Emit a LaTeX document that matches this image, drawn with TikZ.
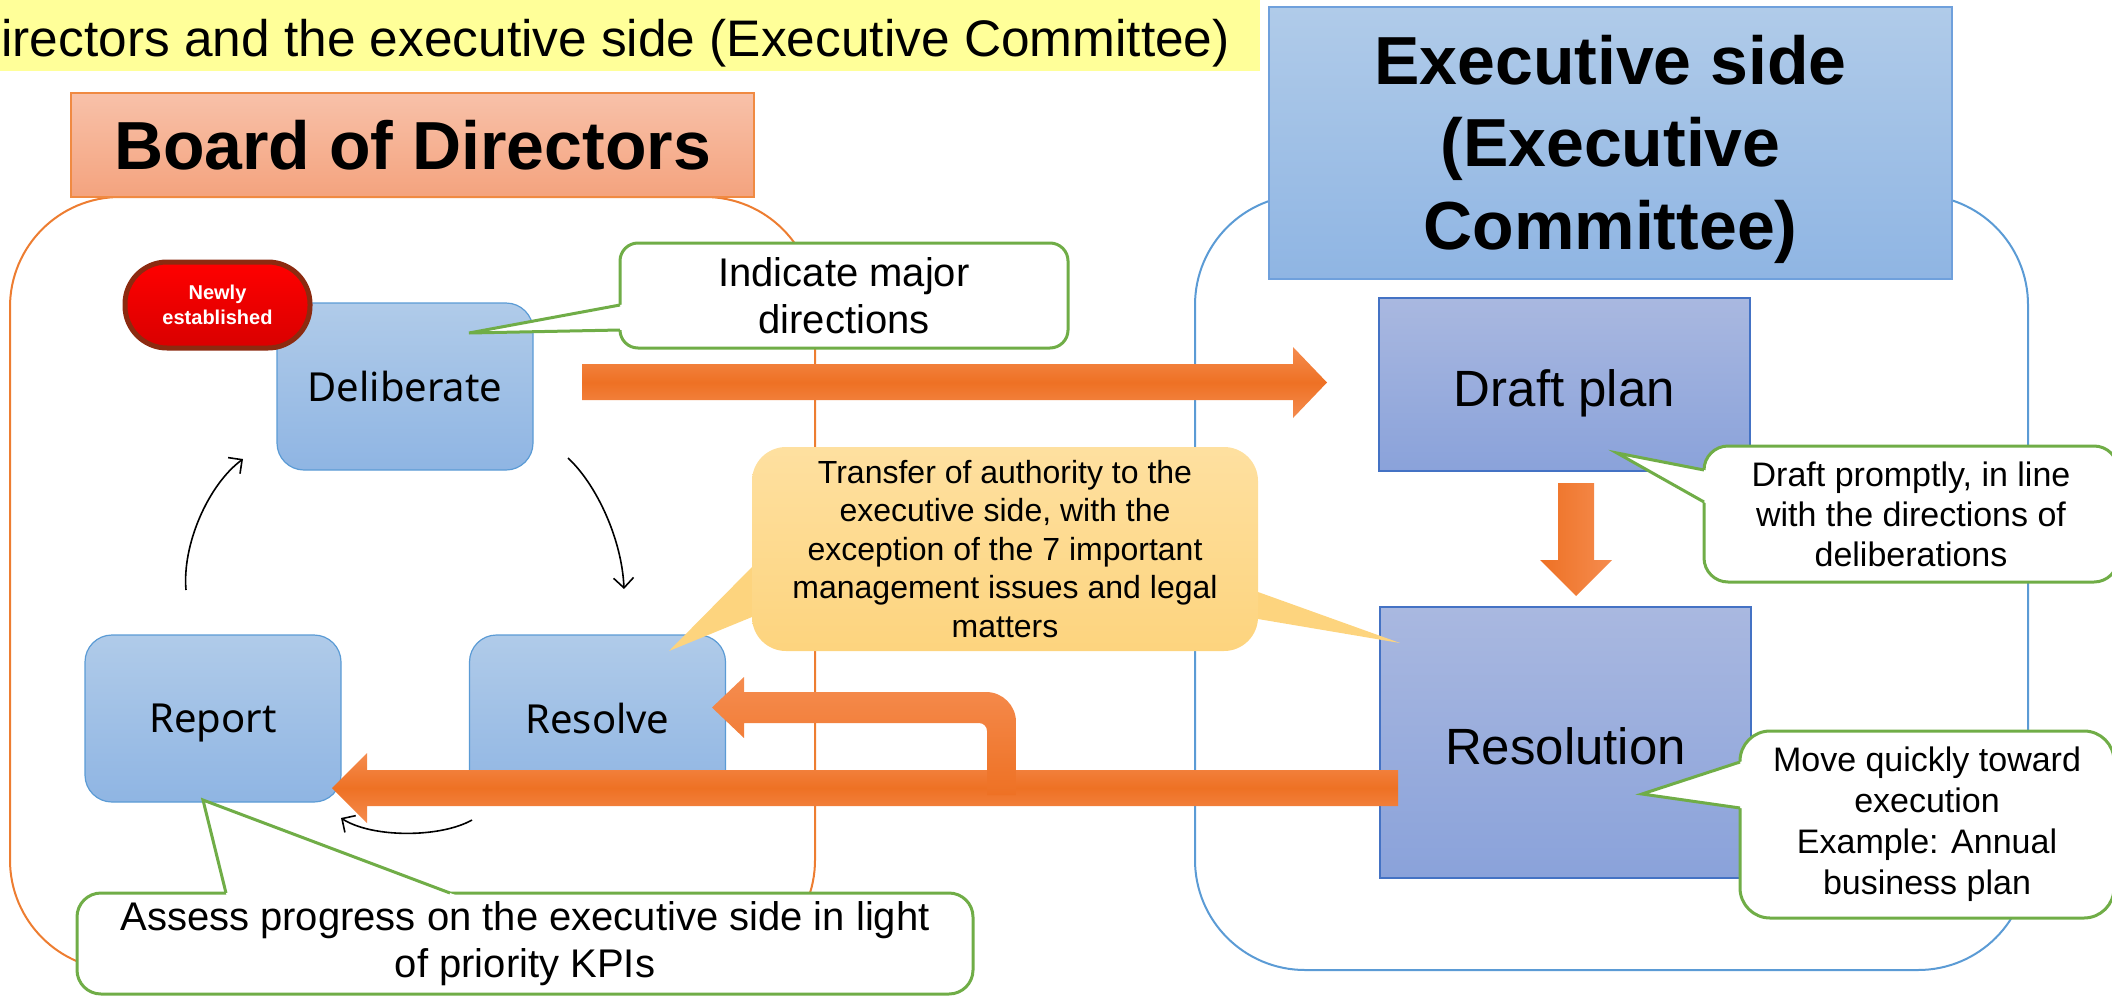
\documentclass[tikz,border=0pt]{standalone}
\usepackage{fontspec}
\setmainfont{Liberation Sans}
\newfontfamily\boxfont{Noto Sans}
\usepackage{tikz}
\usetikzlibrary{arrows.meta,calc}

\definecolor{titleyellow}{HTML}{FFFF99}
\definecolor{boxtop}{HTML}{B0CBE9}
\definecolor{boxbot}{HTML}{8FB5E3}
\definecolor{boxline}{HTML}{5B9BD5}
\definecolor{plantop}{HTML}{A9B8E0}
\definecolor{planbot}{HTML}{8AA2DA}
\definecolor{planline}{HTML}{4472C4}
\definecolor{boardtop}{HTML}{F8C1A9}
\definecolor{boardbot}{HTML}{F4A37E}
\definecolor{boardline}{HTML}{F08A42}
\definecolor{exline}{HTML}{6FA0DC}
\definecolor{grpline}{HTML}{ED7D31}
\definecolor{arrlight}{HTML}{F58C4F}
\definecolor{arrdark}{HTML}{EE7124}
\definecolor{notegreen}{HTML}{70AD47}
\definecolor{notetop}{HTML}{FEE0A0}
\definecolor{notebot}{HTML}{FDD47E}
\definecolor{newlyedge}{HTML}{8C2A10}

\tikzset{
  sidegroup/.style={line width=1pt, rounded corners=55pt},
  headbox/.style={inner sep=0pt, minimum width=341.5pt, align=center, line width=0.8pt,
    font=\bfseries\fontsize{34}{41.25}\selectfont},
  stepbox/.style={draw=boxline, line width=0.6pt, top color=boxtop, bottom color=boxbot,
    rounded corners=13.5pt, minimum width=128pt, minimum height=83.5pt, inner sep=0pt,
    text depth=0pt, font=\boxfont\fontsize{20}{24}\selectfont},
  planbox/.style={draw=planline, line width=0.6pt, top color=plantop, bottom color=planbot,
    minimum width=185.5pt, inner sep=0pt, text height=22pt, text depth=0pt,
    font=\fontsize{25.5}{30}\selectfont},
  bigarrow/.style={top color=arrlight, bottom color=arrlight, middle color=arrdark},
  cyclearrow/.style={line width=0.8pt, -{Straight Barb[length=5pt,width=10pt]}},
  yellownote/.style={top color=notetop, bottom color=notebot, rounded corners=17pt,
    inner sep=0pt, align=center, font=\fontsize{16}{19.25}\selectfont},
  greennote/.style={draw=notegreen, line width=1.5pt, fill=white, inner sep=0pt, align=center},
  noteline/.style={draw=notegreen, line width=1.5pt}
}

\begin{document}
\begin{tikzpicture}[x=0.5pt, y=-0.5pt]
  \useasboundingbox (0,0) rectangle (2112,995);

  % title strip
  \fill[titleyellow] (0,0) rectangle (1260,71);
  \node[anchor=base west, inner sep=0pt, font=\fontsize{25.7}{30}\selectfont] (title) at (1,57)
    {irectors and the executive side (Executive Committee)};

  % the two sides
  \draw[sidegroup, draw=grpline] (10,197) rectangle (815,970);
  \draw[sidegroup, draw=boxline] (1195,195) rectangle (2028,970);
  \node[headbox, draw=boardline, top color=boardtop, bottom color=boardbot, minimum height=52pt]
    (board) at (412.5,145) {Board of Directors};
  \node[headbox, draw=exline, top color=boxtop, bottom color=boxbot, minimum height=136pt,
    text depth=0.08em] (exec) at (1610.5,143) {Executive side\\(Executive\\Committee)};

  % steps
  \node[stepbox] (delib) at (405,386.5) {Deliberate};
  \node[stepbox] (report) at (213,718.5) {Report};
  \node[stepbox] (resolve) at (597.5,718.5) {Resolve};
  \node[planbox, minimum height=86.5pt] (draft) at (1564.5,384.5) {Draft plan};
  \node[planbox, minimum height=135.5pt] (resol) at (1565.5,742.5) {Resolution};

  \node[draw=newlyedge, line width=2.5pt, top color=red, bottom color=red!85!black,
    rounded corners=21pt, minimum width=92.5pt, minimum height=43pt, inner sep=0pt,
    align=center, text=white, font=\bfseries\fontsize{10}{12.5}\selectfont]
    (newly) at (217.5,305) {Newly\\established};

  % block arrows
  \path[bigarrow] (582,364) -- (1293,364) -- (1293,347) -- (1327,382.5) -- (1293,418)
    -- (1293,400) -- (582,400) -- cycle;
  \path[left color=arrdark, right color=arrlight] (1558,483) -- (1594,483) -- (1594,560)
    -- (1612,560) -- (1576,596) -- (1540,560) -- (1558,560) -- cycle;
  \path[bigarrow] (1398,770) -- (1398,806) -- (367,806) -- (367,823) -- (332,788)
    -- (367,753) -- (367,770) -- cycle;
  \path[top color=arrlight, bottom color=arrdark] (712,707.5) -- (744,677) -- (744,692) -- (986,692)
    .. controls (1002.6,692) and (1016,705.4) .. (1016,722) -- (1016,795) -- (987,795)
    -- (987,731) .. controls (987,726.6) and (983.4,723) .. (979,723) -- (744,723)
    -- (744,738) -- cycle;

  % cycle
  \draw[cyclearrow] (186,590) .. controls (182,545) and (208,485) .. (243,459);
  \draw[cyclearrow] (568,458) .. controls (597,485) and (622,540) .. (624,589);
  \draw[cyclearrow] (472,820) .. controls (440,838) and (372,838) .. (341,818);

  % transfer note
  \coordinate (ltip) at (669,651);
  \coordinate (rtip) at (1400,643);
  \fill[notebot] ($(ltip)!1.2!(752,567)$) -- (ltip) -- ($(ltip)!1.2!(752,617)$) -- cycle;
  \fill[notebot] ($(rtip)!1.2!(1258,592)$) -- (rtip) -- ($(rtip)!1.2!(1258,619)$) -- cycle;
  \node[yellownote, minimum width=253pt, minimum height=102pt] (transfer) at (1005,549)
    {Transfer of authority to the\\executive side, with the\\exception of the 7 important\\management issues and legal\\matters};

  % green notes
  \node[greennote, rounded corners=9pt, minimum width=224pt, minimum height=52.5pt,
    font=\fontsize{20}{23.5}\selectfont] (major) at (844,295.5) {Indicate major\\directions};
  \coordinate (majortip) at (469,333);
  \coordinate (majorb1) at (620,305);
  \coordinate (majorb2) at (620,330);
  \fill[white] ($(majortip)!1.05!(majorb1)$) -- (majortip) -- ($(majortip)!1.05!(majorb2)$) -- cycle;
  \draw[noteline] (majorb1) -- (majortip) -- (majorb2);

  \node[greennote, rounded corners=12pt, minimum width=207pt, minimum height=68pt,
    font=\fontsize{17}{20}\selectfont] (prompt) at (1911,514)
    {Draft promptly, in line\\with the directions of\\deliberations};
  \coordinate (prompttip) at (1617,453);
  \coordinate (promptb1) at (1704,470);
  \coordinate (promptb2) at (1704,502);
  \fill[white] ($(prompttip)!1.07!(promptb1)$) -- (prompttip) -- ($(prompttip)!1.07!(promptb2)$) -- cycle;
  \draw[noteline] (promptb1) -- (prompttip) -- (promptb2);

  \node[greennote, rounded corners=15pt, minimum width=187pt, minimum height=93.5pt,
    font=\fontsize{17}{20.5}\selectfont] (quick) at (1927,824.5)
    {Move quickly toward\\execution\\Example: Annual\\business plan};
  \coordinate (quicktip) at (1642,794);
  \coordinate (quickb1) at (1740,762);
  \coordinate (quickb2) at (1740,808);
  \fill[white] ($(quicktip)!1.07!(quickb1)$) -- (quicktip) -- ($(quicktip)!1.07!(quickb2)$) -- cycle;
  \draw[noteline] (quickb1) -- (quicktip) -- (quickb2);

  \node[greennote, rounded corners=12pt, minimum width=448pt, minimum height=50.5pt,
    font=\fontsize{20}{23.5}\selectfont] (assess) at (525,943.5)
    {Assess progress on the executive side in light\\of priority KPIs};
  \coordinate (assesstip) at (203,800);
  \coordinate (assessb1) at (226,893);
  \coordinate (assessb2) at (450,893);
  \fill[white] ($(assesstip)!1.06!(assessb1)$) -- (assesstip) -- ($(assesstip)!1.06!(assessb2)$) -- cycle;
  \draw[noteline] (assessb1) -- (assesstip) -- (assessb2);
\end{tikzpicture}
\end{document}
